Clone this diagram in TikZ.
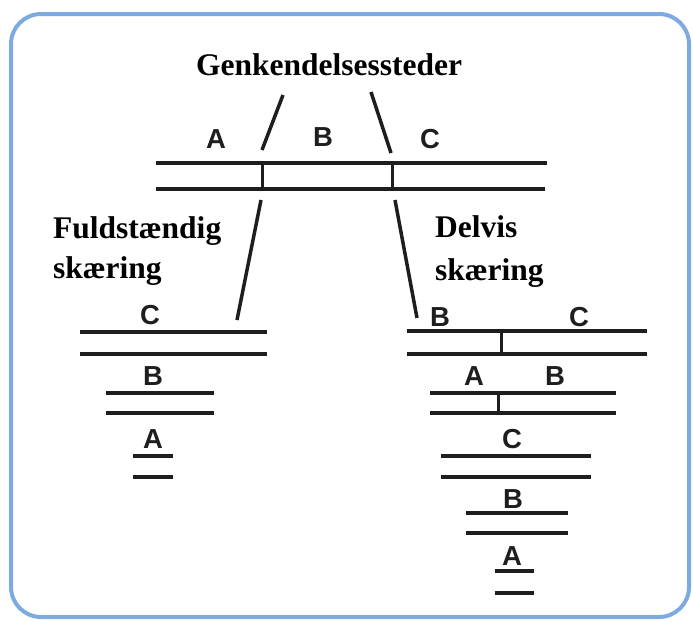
\documentclass[tikz,border=0pt]{standalone}
\usepackage{fontspec}
\setmainfont{Liberation Serif}
\newfontfamily\labfont{Liberation Sans}
\definecolor{frameblue}{RGB}{125,170,225}
\definecolor{ink}{RGB}{30,30,30}
\begin{document}
\begin{tikzpicture}[x=1pt,y=-1pt,
  bar/.style={line width=4pt, draw=ink},
  tick/.style={line width=3pt, draw=ink},
  slant/.style={line width=3.5pt, draw=ink},
  heading/.style={font=\fontsize{31.5}{35}\selectfont\bfseries, inner sep=0pt, anchor=base west},
  lett/.style={font=\labfont\bfseries\fontsize{27.5}{30}\selectfont, inner sep=0pt, anchor=base, text=ink}]
\useasboundingbox (0,0) rectangle (693,621);
\draw[line width=4pt, draw=frameblue, rounded corners=30pt] (11,14) rectangle (689,617);

% heading texts
\node[heading, anchor=base] (gen) at (329,75) {Genkendelsessteder};
\node[heading] (full1) at (53,238) {Fuldstændig};
\node[heading] (full2) at (53,278) {skæring};
\node[heading] (delv1) at (435,237) {Delvis};
\node[heading] (delv2) at (435,280) {skæring};

% top molecule
\node[lett] (tA) at (216,148) {A};
\node[lett] (tB) at (323,146) {B};
\node[lett] (tC) at (430,148) {C};
\draw[bar] (156,163) -- (547,163);
\draw[bar] (156,189) -- (545,189);
\draw[tick] (262,163) -- (262,189);
\draw[tick] (392,163) -- (392,189);
\draw[slant] (283,95) -- (262,150);
\draw[slant] (371,92) -- (391,153);
\draw[slant] (261,200) -- (237,320);
\draw[slant] (395,200) -- (417,318);

% left stack
\node[lett] (lC) at (150,324) {C};
\draw[bar] (80,332) -- (267,332);
\draw[bar] (80,354) -- (267,354);
\node[lett] (lB) at (153,385) {B};
\draw[bar] (106,393) -- (214,393);
\draw[bar] (106,413) -- (214,413);
\node[lett] (lA) at (153,448) {A};
\draw[bar] (133,456) -- (173,456);
\draw[bar] (133,477) -- (173,477);

% right stack
\node[lett] (rB1) at (440,326) {B};
\node[lett] (rC1) at (579,326) {C};
\draw[bar] (407,331) -- (647,331);
\draw[bar] (407,354) -- (647,354);
\draw[tick] (501,331) -- (501,354);
\node[lett] (rA2) at (474,385) {A};
\node[lett] (rB2) at (555,385) {B};
\draw[bar] (430,393) -- (616,393);
\draw[bar] (430,413) -- (616,413);
\draw[tick] (498,393) -- (498,413);
\node[lett] (rC3) at (512,448) {C};
\draw[bar] (441,456) -- (591,456);
\draw[bar] (441,477) -- (591,477);
\node[lett] (rB4) at (513,508) {B};
\draw[bar] (466,513) -- (568,513);
\draw[bar] (466,533) -- (568,533);
\node[lett] (rA5) at (512,565) {A};
\draw[bar] (495,571) -- (534,571);
\draw[bar] (495,593) -- (534,593);
\end{tikzpicture}
\end{document}
